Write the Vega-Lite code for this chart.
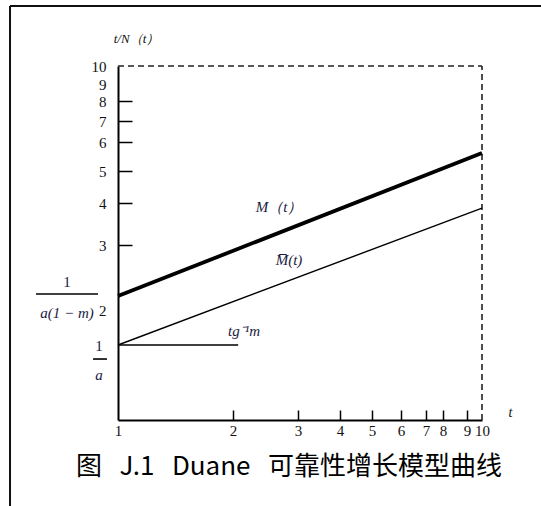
{
  "$schema": "https://vega.github.io/schema/vega-lite/v6.json",
  "width": 364,
  "height": 354,
  "autosize": {"type": "none"},
  "padding": {"left": 118, "top": 66, "right": 59, "bottom": 86},
  "background": "white",
  "config": {"view": {"stroke": null}, "axis": {"grid": false}},
  "title": {"text": "图\u00a0\u00a0\u00a0J.1\u00a0\u00a0\u00a0Duane\u00a0\u00a0\u00a0可靠性增长模型曲线", "orient": "bottom", "anchor": "middle", "frame": "group", "font": "Noto Sans CJK SC", "fontSize": 26, "fontWeight": "normal", "color": "#000", "offset": -57, "dx": -11},
  "datasets": {
    "frame": [{"t": 0.061, "v": 13.33, "t2": 14, "v2": 13.33}, {"t": 0.061, "v": -1.2, "t2": 0.061, "v2": 13.33}],
    "border": [{"t": 1, "v": 10, "t2": 10, "v2": 10}, {"t": 10, "v": 0, "t2": 10, "v2": 10}],
    "mt": [{"t": 1, "v": 2.215}, {"t": 10, "v": 5.62}],
    "mbar": [{"t": 1, "v": 1}, {"t": 10, "v": 3.88}],
    "rules": [{"t": 1, "v": 1, "t2": 2.08, "v2": 1}, {"t": 0.287, "v": 2.246, "t2": 0.826, "v2": 2.246}, {"t": 0.783, "v": 0.813, "t2": 0.904, "v2": 0.813}],
    "upright": [{"t": 0.557, "v": 2.43, "label": "1"}, {"t": 0.835, "v": 0.987, "label": "1"}],
    "italic": [{"t": 0.557, "v": 1.914, "label": "a(1 − m)"}, {"t": 0.835, "v": 0.6, "label": "a"}, {"t": 2.708, "v": 3.905, "label": "M（t）"}, {"t": 2.862, "v": 2.769, "label": "M̅(t)"}, {"t": 2.169, "v": 1.4, "label": "tg⁻¹m"}]
  },
  "encoding": {
    "x": {"field": "t", "type": "quantitative",
      "scale": {"type": "linear", "domain": [1, 2, 3, 4, 5, 6, 7, 8, 9, 10], "range": [0, 115, 180, 222, 254, 283, 308, 325, 349, 364], "nice": false, "zero": false},
      "axis": {"values": [1, 2, 3, 4, 5, 6, 7, 8, 9, 10], "title": "t", "titleX": 392, "titleY": -8, "titleFont": "Liberation Serif", "titleFontStyle": "italic", "titleFontWeight": "normal", "titleFontSize": 14, "titleAlign": "center", "titleBaseline": "middle", "titleColor": "#111",
        "tickSize": -10, "tickWidth": 1.5, "tickColor": "#000", "tickOpacity": {"condition": {"test": "datum.value == 1 || datum.value == 10", "value": 0}, "value": 1},
        "domainColor": "#000", "domainWidth": 2, "labelFont": "Liberation Serif", "labelFontSize": 15, "labelColor": "#111", "labelPadding": 13, "labelFlush": false, "labelOverlap": false, "labelExpr": "datum.value"}},
    "y": {"field": "v", "type": "quantitative",
      "scale": {"type": "linear", "domain": [0, 1, 2, 3, 4, 5, 6, 7, 8, 9, 10], "range": [354, 279, 244, 179, 137, 105, 76, 55, 35, 18, 0], "nice": false, "zero": false},
      "axis": {"values": [2, 3, 4, 5, 6, 7, 8, 9, 10], "title": "t/N（t）", "titleX": 18, "titleY": -28, "titleAngle": 0, "titleFont": "Liberation Serif", "titleFontStyle": "italic", "titleFontWeight": "normal", "titleFontSize": 13, "titleAlign": "center", "titleBaseline": "middle", "titleColor": "#111",
        "tickSize": -14, "tickWidth": 1.5, "tickColor": "#000", "tickOpacity": {"condition": {"test": "datum.value == 2 || datum.value == 9 || datum.value == 10", "value": 0}, "value": 1},
        "domainColor": "#000", "domainWidth": 2, "labelFont": "Liberation Serif", "labelFontSize": 15, "labelColor": "#111", "labelPadding": 26, "labelFlush": false, "labelOverlap": false, "labelExpr": "datum.value"}}
  },
  "layer": [
    {"data": {"name": "frame"}, "mark": {"type": "rule", "color": "#111", "strokeWidth": 2}, "encoding": {"x2": {"field": "t2"}, "y2": {"field": "v2"}}},
    {"data": {"name": "border"}, "mark": {"type": "rule", "color": "#222", "strokeWidth": 1.6, "strokeDash": [6, 4]}, "encoding": {"x2": {"field": "t2"}, "y2": {"field": "v2"}}},
    {"data": {"name": "mt"}, "mark": {"type": "line", "color": "#000", "strokeWidth": 3.8}, "encoding": {}},
    {"data": {"name": "mbar"}, "mark": {"type": "line", "color": "#000", "strokeWidth": 1.4}, "encoding": {}},
    {"data": {"name": "rules"}, "mark": {"type": "rule", "color": "#000", "strokeWidth": 1.6}, "encoding": {"x2": {"field": "t2"}, "y2": {"field": "v2"}}},
    {"data": {"name": "upright"}, "mark": {"type": "text", "font": "Liberation Serif", "fontSize": 15, "color": "#1a1a40", "align": "center", "baseline": "middle"}, "encoding": {"text": {"field": "label"}}},
    {"data": {"name": "italic"}, "mark": {"type": "text", "font": "Liberation Serif", "fontSize": 15, "fontStyle": "italic", "color": "#1a1a40", "align": "center", "baseline": "middle"}, "encoding": {"text": {"field": "label"}}}
  ]
}
